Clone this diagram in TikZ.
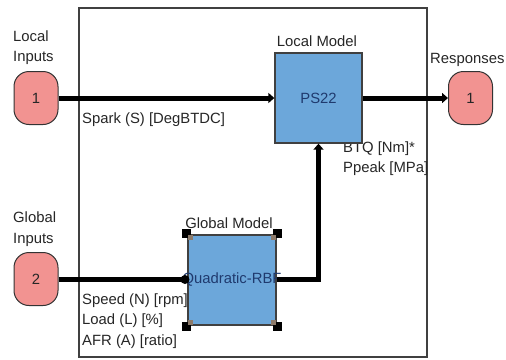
\documentclass[tikz,border=0pt]{standalone}
\usepackage{fontspec}
\setmainfont{Liberation Sans}
\usetikzlibrary{arrows.meta}
\definecolor{boxblue}{HTML}{6CA7DA}
\definecolor{ovalpink}{HTML}{F29391}
\definecolor{navytext}{HTML}{1F3A6E}
\definecolor{handlegray}{HTML}{8C7A6A}
\begin{document}
\begin{tikzpicture}[x=1bp,y=-1bp,
  txt/.style={font=\fontsize{14.9}{18}\selectfont, text=black!85, inner sep=0pt},
  lbl/.style={txt, anchor=base west},
  clbl/.style={txt, anchor=base},
  port/.style={draw=black!80, line width=1bp, fill=ovalpink, rounded corners=15bp,
    minimum width=44bp, minimum height=53bp, inner sep=0pt, txt},
  model/.style={draw=black!75, line width=1.3bp, fill=boxblue, inner sep=0pt,
    font=\fontsize{14.9}{18}\selectfont, text=navytext},
  wire/.style={line width=5bp, draw=black},
  arr/.style={wire, -{Triangle[length=6bp,width=10bp]}},
  hblack/.style={fill=black, minimum size=9bp, inner sep=0pt, draw=none},
  hgray/.style={fill=handlegray, minimum size=5bp, inner sep=0pt, draw=none},
  frame/.style={draw=black!75, line width=1.2bp}
]
\useasboundingbox (0,0) rectangle (506,359);
\fill[white] (0,0) rectangle (506,359);

% outer frame
\draw[frame] (79,8) rectangle (427,357);

% labels
\node[lbl] (tLocal) at (13,41) {Local};
\node[lbl] (tLocalIn) at (13,61) {Inputs};
\node[lbl] (tGlobal) at (13,222) {Global};
\node[lbl] (tGlobalIn) at (13,243) {Inputs};
\node[lbl] (tSpark) at (82,123) {Spark (S) [DegBTDC]};
\node[clbl] (tLM) at (317,46) {Local Model};
\node[lbl] (tResp) at (430,63) {Responses};
\node[lbl] (tBTQ) at (343,152) {BTQ [Nm]*};
\node[lbl] (tPpeak) at (343,172) {Ppeak [MPa]};
\node[clbl] (tGM) at (229,228) {Global Model};
\node[lbl] (tSpeed) at (82,304) {Speed (N) [rpm]};
\node[lbl] (tLoad) at (82,324) {Load (L) [\%]};
\node[lbl] (tAFR) at (82,345) {AFR (A) [ratio]};

% ports
\node[port] (li) at (36,98) {1};
\node[port] (gi) at (36,279) {2};
\node[port] (ro) at (470.5,98) {1};

% models
\node[model, minimum width=87bp, minimum height=90bp] (ps) at (318.5,98) {PS22};
\node[model, minimum width=88bp, minimum height=90bp] (gm) at (232,280) {\makebox[0pt]{Quadratic-RBF}};

% connectors
\draw[arr] (li.east) -- (ps.west);
\draw[arr] (ps.east) -- (ro.west);
\draw[wire] (gi.east) -- (gi.east -| gm.west);
\draw[arr] (gm.east |- gi.east) -| (ps.south);
\fill[black] (185,279.5) circle (4.5bp);

% selection handles
\node[hblack] (h1) at (186.5,233.5) {};
\node[hblack] (h2) at (277.5,233.5) {};
\node[hblack] (h3) at (186.5,326.5) {};
\node[hblack] (h4) at (277.5,326.5) {};
\node[hgray] (g1) at (190.5,237.5) {};
\node[hgray] (g2) at (273.5,237.5) {};
\node[hgray] (g3) at (190.5,322.5) {};
\node[hgray] (g4) at (273.5,322.5) {};
\end{tikzpicture}
\end{document}
